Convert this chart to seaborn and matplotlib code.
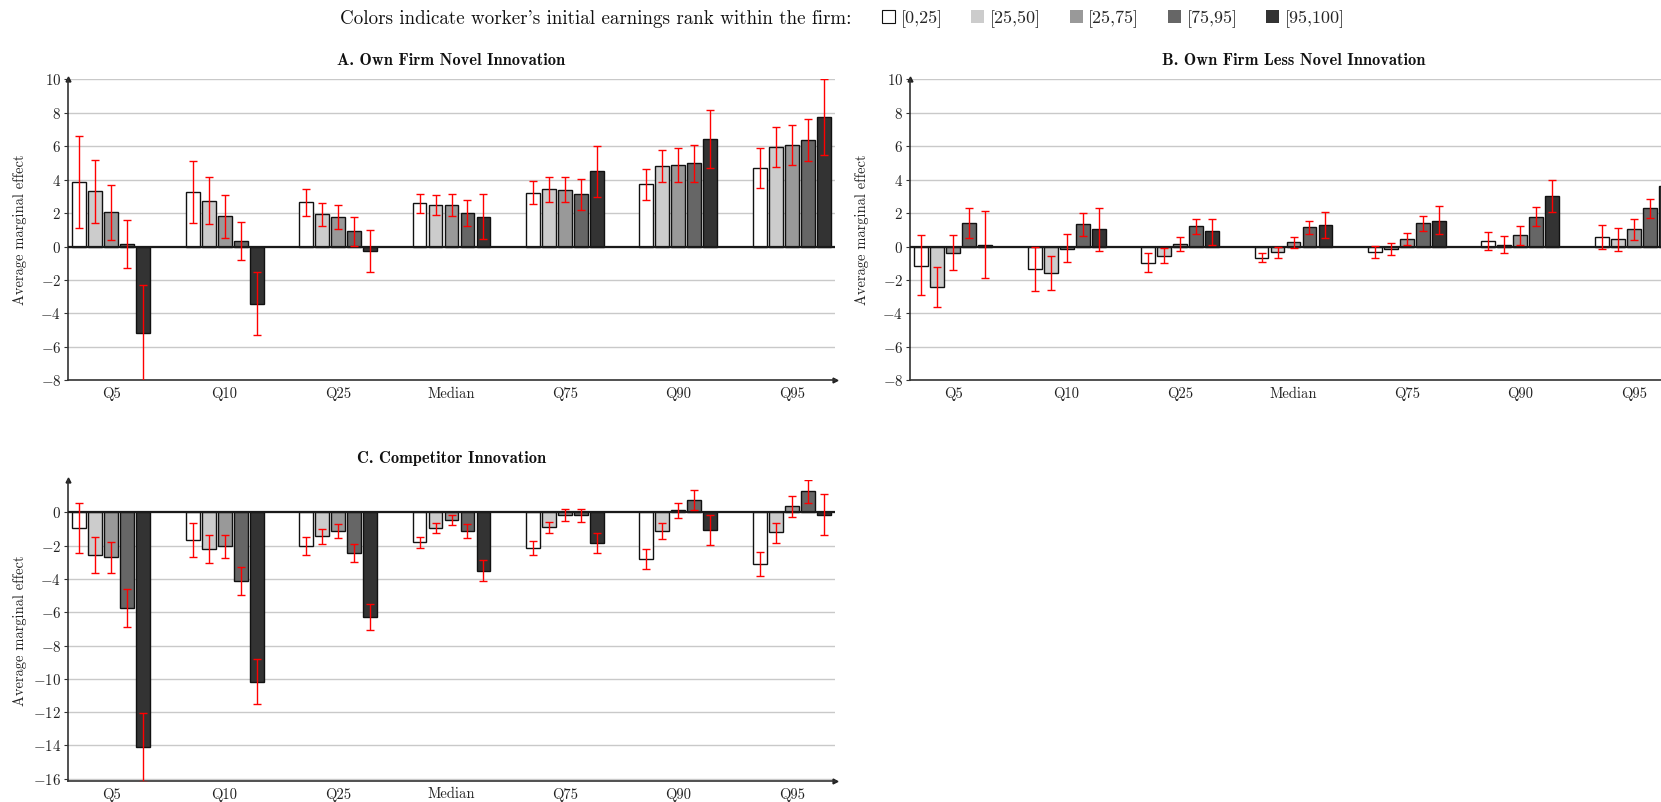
import numpy as np
import pandas as pd
import matplotlib
matplotlib.use("Agg")
import matplotlib.pyplot as plt
import seaborn as sns
from matplotlib.patches import Patch

quantiles = ["Q5", "Q10", "Q25", "Median", "Q75", "Q90", "Q95"]
ranks = ["[0,25]", "[25,50]", "[25,75]", "[75,95]", "[95,100]"]
colors = ["#ffffff", "#cccccc", "#999999", "#666666", "#333333"]

# Panel A: Own Firm Novel Innovation (rows = rank groups, cols = quantiles)
a_est = [[3.86, 3.27, 2.65, 2.59, 3.21, 3.73, 4.70],
         [3.31, 2.75, 1.93, 2.49, 3.43, 4.82, 5.96],
         [2.05, 1.81, 1.77, 2.49, 3.39, 4.86, 6.06],
         [0.18, 0.34, 0.90, 1.99, 3.13, 4.98, 6.37],
         [-5.18, -3.43, -0.28, 1.79, 4.50, 6.41, 7.73]]
a_lo = [[1.12, 1.43, 1.83, 2.01, 2.55, 2.77, 3.51],
        [1.43, 1.35, 1.24, 1.91, 2.69, 3.86, 4.74],
        [0.40, 0.52, 1.06, 1.85, 2.65, 3.86, 4.88],
        [-1.27, -0.78, 0.06, 1.20, 2.19, 3.86, 5.12],
        [-8.10, -5.32, -1.55, 0.44, 2.97, 4.68, 5.46]]
a_hi = [[6.59, 5.10, 3.43, 3.15, 3.90, 4.66, 5.92],
        [5.20, 4.14, 2.61, 3.09, 4.18, 5.78, 7.17],
        [3.69, 3.07, 2.47, 3.13, 4.14, 5.88, 7.25],
        [1.61, 1.45, 1.75, 2.81, 4.06, 6.10, 7.65],
        [-2.31, -1.55, 1.00, 3.17, 6.04, 8.19, 10.00]]

# Panel B: Own Firm Less Novel Innovation
b_est = [[-1.14, -1.36, -0.96, -0.66, -0.32, 0.32, 0.58],
         [-2.41, -1.57, -0.54, -0.34, -0.16, 0.10, 0.42],
         [-0.36, -0.12, 0.16, 0.28, 0.42, 0.66, 1.04],
         [1.40, 1.32, 1.22, 1.14, 1.38, 1.79, 2.29],
         [0.12, 1.04, 0.90, 1.30, 1.55, 3.03, 3.63]]
b_lo = [[-2.91, -2.65, -1.51, -0.94, -0.68, -0.20, -0.12],
        [-3.61, -2.59, -0.98, -0.66, -0.50, -0.40, -0.26],
        [-1.40, -0.92, -0.26, -0.06, 0.08, 0.12, 0.38],
        [0.48, 0.62, 0.76, 0.76, 0.94, 1.24, 1.71],
        [-1.91, -0.24, 0.10, 0.48, 0.72, 2.05, 2.60]]
b_hi = [[0.68, -0.02, -0.38, -0.36, 0.02, 0.86, 1.28],
        [-1.24, -0.58, -0.10, -0.02, 0.20, 0.62, 1.08],
        [0.68, 0.76, 0.54, 0.56, 0.78, 1.20, 1.65],
        [2.31, 1.99, 1.67, 1.51, 1.81, 2.35, 2.87],
        [2.13, 2.31, 1.67, 2.05, 2.41, 3.97, 4.70]]

# Panel C: Competitor Innovation
c_est = [[-0.94, -1.68, -2.04, -1.80, -2.14, -2.78, -3.12],
         [-2.58, -2.20, -1.44, -0.94, -0.90, -1.10, -1.20],
         [-2.70, -2.04, -1.12, -0.48, -0.16, 0.12, 0.36],
         [-5.73, -4.12, -2.44, -1.10, -0.16, 0.74, 1.28],
         [-14.08, -10.17, -6.29, -3.50, -1.84, -1.04, -0.16]]
c_lo = [[-2.44, -2.70, -2.56, -2.14, -2.56, -3.38, -3.84],
        [-3.66, -3.06, -1.90, -1.24, -1.24, -1.60, -1.82],
        [-3.66, -2.72, -1.52, -0.78, -0.50, -0.36, -0.26],
        [-6.89, -4.97, -2.98, -1.52, -0.56, 0.14, 0.56],
        [-16.20, -11.49, -7.09, -4.10, -2.44, -1.94, -1.38]]
c_hi = [[0.54, -0.66, -1.50, -1.46, -1.72, -2.20, -2.40],
        [-1.50, -1.38, -1.02, -0.66, -0.56, -0.64, -0.62],
        [-1.76, -1.38, -0.72, -0.18, 0.18, 0.58, 0.96],
        [-4.59, -3.30, -1.88, -0.72, 0.22, 1.32, 1.96],
        [-12.03, -8.83, -5.51, -2.86, -1.24, -0.16, 1.10]]

titles = ["A. Own Firm Novel Innovation", "B. Own Firm Less Novel Innovation",
          "C. Competitor Innovation"]
legend_prefix = "Colors indicate worker's initial earnings rank within the firm:"
ylabel = "Average marginal effect"

sns.set_theme(style="white")
plt.rcParams["font.family"] = ["cmr10"]
plt.rcParams["mathtext.fontset"] = "cm"
plt.rcParams["axes.formatter.use_mathtext"] = True
plt.rcParams["axes.unicode_minus"] = True

W, H = 1661, 802
fig = plt.figure(figsize=(W / 100, H / 100), dpi=100)
renderer = fig.canvas.get_renderer()


def fit(text, target_px, vertical=False):
    """Scale a text's font size so its rendered length matches target_px."""
    for _ in range(2):
        bb = text.get_window_extent(renderer)
        cur = bb.height if vertical else bb.width
        text.set_fontsize(text.get_fontsize() * target_px / cur)


def px_axes(left, right, top, bottom):
    return fig.add_axes([left / W, 1 - bottom / H, (right - left) / W, (bottom - top) / H])


def draw(ax, est, lo, hi, ylim, yticks, title, title_y):
    rows = []
    for r, vals in zip(ranks, est):
        for q, v in zip(quantiles, vals):
            rows.append({"quantile": q, "rank": r, "value": v})
    df = pd.DataFrame(rows)
    ax.set_axisbelow(True)
    ax.yaxis.grid(True, color="#c9c9c9", lw=1.0, zorder=0)
    sns.barplot(data=df, x="quantile", y="value", hue="rank", order=quantiles,
                hue_order=ranks, palette=colors, saturation=1, width=0.705, gap=0.13,
                edgecolor="#111111", linewidth=1.0, errorbar=None, legend=False,
                ax=ax, zorder=3)
    for cont, e, l, h in zip(ax.containers, est, lo, hi):
        xs = [p.get_x() + p.get_width() / 2 for p in cont]
        e = np.array(e); l = np.array(l); h = np.array(h)
        ax.errorbar(xs, e, yerr=[e - l, h - e], fmt="none", ecolor="red",
                    elinewidth=1.0, capsize=3, capthick=1.0, zorder=4)
    ax.axhline(0, color="#1a1a1a", lw=1.6, zorder=3.5)
    ax.set_xlim(-0.38, 6.38)
    ax.set_ylim(*ylim)
    ax.set_yticks(yticks)
    ax.set_xlabel("")
    yl = ax.set_ylabel(ylabel, fontsize=10.5, color="#222222")
    ax.yaxis.set_label_coords(-0.0535, 0.5)
    for s in ["top", "right"]:
        ax.spines[s].set_visible(False)
    for s in ["left", "bottom"]:
        ax.spines[s].set_color("#333333")
        ax.spines[s].set_linewidth(1.2)
    ax.tick_params(axis="x", direction="inout", length=6, width=0.8, color="#333333",
                   labelsize=10.5, labelcolor="#222222", pad=2)
    ax.tick_params(axis="y", direction="out", length=3, width=0.8, color="#333333",
                   labelsize=10.8, labelcolor="#222222", pad=2, left=True)
    ax.plot([1], [0], marker=">", color="#222222", markersize=3.5,
            transform=ax.transAxes, clip_on=False)
    ax.plot([0], [1], marker="^", color="#222222", markersize=3.5,
            transform=ax.transAxes, clip_on=False)
    t = ax.set_title(title, family="cmb10", fontsize=11.5, color="#111111",
                     y=title_y, va="center", pad=0)
    return yl, t


axA = px_axes(68, 835, 79.3, 380.3)
axB = px_axes(910, 1677, 79.3, 380.3)
axC = px_axes(68, 835, 480, 780.7)

ylA, tA = draw(axA, a_est, a_lo, a_hi, (-8, 10), np.arange(-8, 11, 2), titles[0], 1.062)
ylB, tB = draw(axB, b_est, b_lo, b_hi, (-8, 10), np.arange(-8, 11, 2), titles[1], 1.062)
ylC, tC = draw(axC, c_est, c_lo, c_hi, (-16.12, 1.95), np.arange(-16, 1, 2), titles[2], 1.073)

fit(ylA, 150, vertical=True)
for yl in (ylB, ylC):
    yl.set_fontsize(ylA.get_fontsize())
fit(tA, 228)
for t in (tB, tC):
    t.set_fontsize(tA.get_fontsize())

pre = fig.text(851 / W, 1 - 19 / H, legend_prefix, ha="right", va="center",
               fontsize=13, family="cmr10", color="#111111")
fit(pre, 509)
handles = [Patch(facecolor=c, edgecolor="#111111" if c == "#ffffff" else "none",
                 linewidth=0.8) for c in colors]
fig.legend(handles, ranks, loc="center left", bbox_to_anchor=(882 / W, 1 - 19 / H),
           ncol=5, frameon=False, handlelength=0.72, handleheight=0.72,
           handletextpad=0.3, columnspacing=1.6, borderpad=0, borderaxespad=0,
           prop={"family": "cmr10", "size": 13})

fig.savefig("out.png", dpi=100)
